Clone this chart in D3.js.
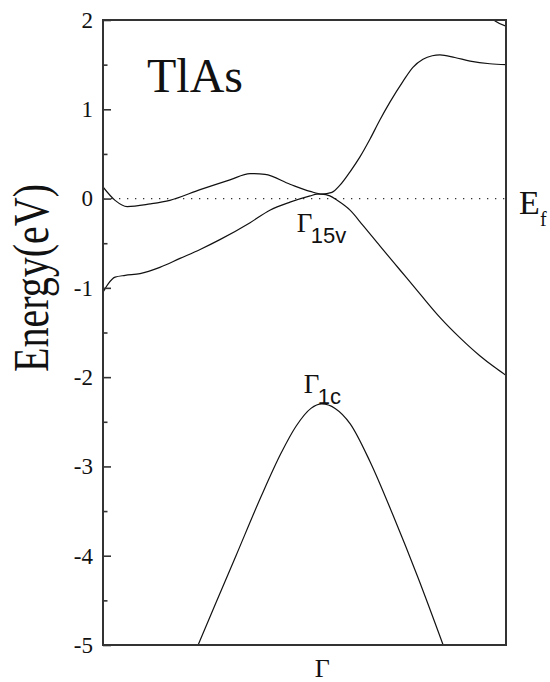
<!DOCTYPE html>
<html>
<head>
<meta charset="utf-8">
<script src="https://cdn.jsdelivr.net/npm/d3@7"></script>
<style>
  html, body { margin: 0; padding: 0; background: #fff; }
  svg { display: block; }
</style>
</head>
<body>
<svg id="chart" width="550" height="682"></svg>
<script>
// Band structure of TlAs near the Γ point.
// k runs along the path from 0 (left edge) to 1 (right edge); Γ sits at kGamma.
const kGamma = 0.543;

// Upper band (crosses Ef, rises to ~1.6 eV on the right)
const bandA_k = [0, 0.030, 0.060, 0.117, 0.166, 0.241, 0.315, 0.365, 0.402, 0.464, 0.514, 0.543, 0.568, 0.588, 0.613, 0.638, 0.663, 0.687, 0.712, 0.744, 0.769, 0.794, 0.817, 0.836, 0.873, 0.911, 0.960, 1.0];
const bandA_E = [0.13, -0.02, -0.09, -0.06, -0.02, 0.10, 0.21, 0.28, 0.27, 0.16, 0.08, 0.05, 0.07, 0.15, 0.30, 0.47, 0.67, 0.88, 1.08, 1.31, 1.47, 1.56, 1.60, 1.61, 1.58, 1.54, 1.51, 1.50];

// Lower valence band (Γ15v maximum, falls to ~-2 eV on the right)
const bandB_k = [0, 0.012, 0.030, 0.055, 0.092, 0.141, 0.191, 0.241, 0.290, 0.365, 0.414, 0.464, 0.514, 0.531, 0.543, 0.563, 0.581, 0.613, 0.645, 0.687, 0.737, 0.787, 0.836, 0.886, 0.935, 0.972, 1.0];
const bandB_E = [-1.05, -0.96, -0.88, -0.86, -0.84, -0.77, -0.67, -0.57, -0.46, -0.27, -0.13, -0.04, 0.03, 0.05, 0.05, 0.03, -0.02, -0.13, -0.30, -0.53, -0.80, -1.07, -1.33, -1.56, -1.76, -1.89, -1.98];

// Γ1c band
const bandC_k = [0.236, 0.280, 0.330, 0.392, 0.442, 0.479, 0.516, 0.543, 0.576, 0.613, 0.663, 0.720, 0.782, 0.844];
const bandC_E = [-5.0, -4.53, -4.0, -3.34, -2.85, -2.55, -2.35, -2.30, -2.35, -2.52, -2.95, -3.55, -4.25, -5.0];

// Band entering the top-right corner
const bandD_k = [0.955, 0.973, 1.0];
const bandD_E = [2.06, 1.99, 1.93];

const yMajorTicks = [-5, -4, -3, -2, -1, 0, 1, 2];
const yMinorTicks = [-4.5, -3.5, -2.5, -1.5, -0.5, 0.5, 1.5];
const xTickLabels = ["Γ"];

const svg = d3.select("#chart");
const plotLeft = 103, plotRight = 506, plotTop = 20, plotBottom = 645;

const x = d3.scaleLinear().domain([0, 1]).range([plotLeft, plotRight]);
const y = d3.scaleLinear().domain([-5, 2]).range([plotBottom, plotTop]);

const serif = "'Liberation Serif', 'Times New Roman', serif";
const sans = "'Liberation Sans', Arial, sans-serif";

svg.append("defs").append("clipPath").attr("id", "plotClip")
  .append("rect").attr("x", plotLeft).attr("y", plotTop)
  .attr("width", plotRight - plotLeft).attr("height", plotBottom - plotTop);

// Fermi level
svg.append("line")
  .attr("x1", x(0)).attr("x2", x(1))
  .attr("y1", y(0)).attr("y2", y(0))
  .attr("stroke", "#333").attr("stroke-width", 1.3)
  .attr("stroke-dasharray", "1.3,6.7");

const line = d3.line()
  .x(d => x(d[0])).y(d => y(d[1]))
  .curve(d3.curveMonotoneX);

const bands = [
  d3.zip(bandA_k, bandA_E),
  d3.zip(bandB_k, bandB_E),
  d3.zip(bandC_k, bandC_E),
  d3.zip(bandD_k, bandD_E)
];

svg.append("g").attr("clip-path", "url(#plotClip)")
  .selectAll("path").data(bands).join("path")
  .attr("d", line)
  .attr("fill", "none")
  .attr("stroke", "#111")
  .attr("stroke-width", 1.2);

// Left axis: major ticks with labels, minor ticks without
const yAxis = d3.axisLeft(y).tickValues(yMajorTicks)
  .tickSize(-8).tickPadding(10).tickFormat(d => String(d));
const gy = svg.append("g").attr("transform", `translate(${plotLeft},0)`).call(yAxis);
gy.attr("font-family", null).attr("font-size", null);
gy.select(".domain").remove();
gy.selectAll(".tick line").attr("stroke", "#333").attr("stroke-width", 1.6);
gy.selectAll(".tick text")
  .style("font-family", serif).style("font-size", "23px").attr("fill", "#111");

const yMinor = d3.axisLeft(y).tickValues(yMinorTicks).tickSize(-4.5).tickFormat("");
const gyMinor = svg.append("g").attr("transform", `translate(${plotLeft},0)`).call(yMinor);
gyMinor.select(".domain").remove();
gyMinor.selectAll(".tick line").attr("stroke", "#333").attr("stroke-width", 1.6);

// Bottom axis: only the Γ label
const xAxis = d3.axisBottom(x).tickValues([kGamma]).tickSize(0).tickPadding(0)
  .tickFormat((d, i) => xTickLabels[i]);
const gx = svg.append("g").attr("transform", `translate(0,${plotBottom})`).call(xAxis);
gx.attr("font-family", null).attr("font-size", null);
gx.select(".domain").remove();
gx.selectAll(".tick text")
  .style("font-family", serif).style("font-size", "26px").attr("fill", "#111")
  .attr("dy", null).attr("y", 32);

// Frame
svg.append("rect")
  .attr("x", plotLeft).attr("y", plotTop)
  .attr("width", plotRight - plotLeft).attr("height", plotBottom - plotTop)
  .attr("fill", "none").attr("stroke", "#333").attr("stroke-width", 2);

// Y-axis title
svg.append("text")
  .attr("transform", "translate(48,372) rotate(-90) scale(1,1.25)")
  .style("font-family", serif).style("font-size", "40px").attr("fill", "#111")
  .text("Energy(eV)");

// Compound name
svg.append("text")
  .attr("x", 147).attr("y", 92)
  .style("font-family", serif).style("font-size", "48px").attr("fill", "#111")
  .text("TlAs");

// Point labels
function gammaLabel(xg, yBase, sub) {
  const g = svg.append("g");
  g.append("text").attr("x", xg).attr("y", yBase)
    .style("font-family", serif).style("font-size", "27px").attr("fill", "#111")
    .text("Γ");
  g.append("text").attr("x", xg + 14).attr("y", yBase + 11)
    .style("font-family", sans).style("font-size", "22px").attr("fill", "#111")
    .text(sub);
}
gammaLabel(x(kGamma) - 25, 232, "15v");
gammaLabel(x(kGamma) - 18, 393, "1c");

// Fermi level label
svg.append("text").attr("x", 519).attr("y", y(0) + 15)
  .style("font-family", serif).style("font-size", "34px").attr("fill", "#111")
  .text("E");
svg.append("text").attr("x", 540).attr("y", y(0) + 27)
  .style("font-family", serif).style("font-size", "20px").attr("fill", "#111")
  .text("f");
</script>
</body>
</html>
